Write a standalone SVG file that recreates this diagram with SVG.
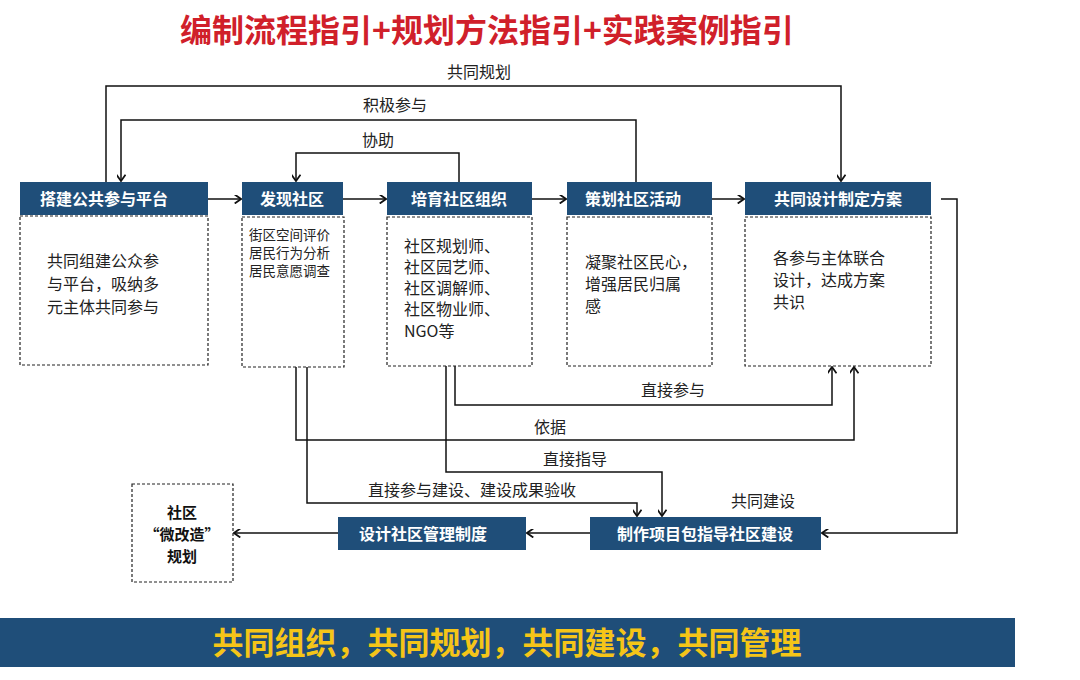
<svg xmlns="http://www.w3.org/2000/svg" width="1080" height="680" viewBox="0 0 1080 680">
<style>
text{font-family:"Noto Sans CJK SC","Liberation Sans",sans-serif}
.hd{fill:#1f4e79}
.hdt{fill:#fff;font-weight:bold;font-size:16px;text-anchor:middle}
.bd{fill:#fff;stroke:#222;stroke-width:1.2;stroke-dasharray:3 2}
.bt{font-size:16px;fill:#222}
.ln{fill:none;stroke:#111;stroke-width:1.5}
.lb{font-size:16px;fill:#222;text-anchor:middle}
</style>
<defs><marker id="a" viewBox="0 0 10 10" refX="9" refY="5" markerWidth="9" markerHeight="9" orient="auto" markerUnits="userSpaceOnUse"><path d="M2,0 L9,5 L2,10" fill="none" stroke="#111" stroke-width="2"/></marker></defs>
<rect width="1080" height="680" fill="#fff"/>
<text x="487" y="42" font-size="32" font-weight="bold" fill="#d0202a" text-anchor="middle">编制流程指引+规划方法指引+实践案例指引</text>
<g id="connectors">
<path class="ln" d="M208,199H241" marker-end="url(#a)"/>
<path class="ln" d="M343,199H386" marker-end="url(#a)"/>
<path class="ln" d="M532,199H566" marker-end="url(#a)"/>
<path class="ln" d="M712,199H744" marker-end="url(#a)"/>
<path class="ln" d="M106,182V86H841V181" marker-end="url(#a)"/>
<path class="ln" d="M636,182V120H121V181" marker-end="url(#a)"/>
<path class="ln" d="M459,182V153H296V181" marker-end="url(#a)"/>
<path class="ln" d="M941,199H957V533H822" marker-end="url(#a)"/>
<path class="ln" d="M455,366V405H832V367" marker-end="url(#a)"/>
<path class="ln" d="M296,367V440H854V367" marker-end="url(#a)"/>
<path class="ln" d="M446,366V472H662V516" marker-end="url(#a)"/>
<path class="ln" d="M307,367V503H637V516" marker-end="url(#a)"/>
<path class="ln" d="M590,533H527" marker-end="url(#a)"/>
<path class="ln" d="M338,533H234" marker-end="url(#a)"/>
<text class="lb" x="479" y="78">共同规划</text>
<text class="lb" x="395" y="111">积极参与</text>
<text class="lb" x="378" y="146">协助</text>
<text class="lb" x="673" y="396">直接参与</text>
<text class="lb" x="550" y="433">依据</text>
<text class="lb" x="575" y="465">直接指导</text>
<text class="lb" x="472" y="496">直接参与建设、建设成果验收</text>
<text class="lb" x="763" y="507">共同建设</text>
</g>
<g id="n1"><rect class="hd" x="20" y="182" width="188" height="33"/><text class="hdt" x="104" y="205">搭建公共参与平台</text>
<rect class="bd" x="20" y="216" width="188" height="149"/>
<text class="bt"><tspan x="47" y="267">共同组建公众参</tspan><tspan x="47" y="290">与平台，吸纳多</tspan><tspan x="47" y="313">元主体共同参与</tspan></text></g>
<g id="n2"><rect class="hd" x="242" y="182" width="101" height="33"/><text class="hdt" x="292" y="205">发现社区</text>
<rect class="bd" x="242" y="217" width="102" height="150"/>
<text class="bt" font-size="13"><tspan x="249" y="240" font-size="13.5">街区空间评价</tspan><tspan x="249" y="258" font-size="13.5">居民行为分析</tspan><tspan x="249" y="276" font-size="13.5">居民意愿调查</tspan></text></g>
<g id="n3"><rect class="hd" x="387" y="182" width="145" height="33"/><text class="hdt" x="459" y="205">培育社区组织</text>
<rect class="bd" x="387" y="217" width="145" height="149"/>
<text class="bt" font-size="15"><tspan x="404" y="252">社区规划师、</tspan><tspan x="404" y="273">社区园艺师、</tspan><tspan x="404" y="294">社区调解师、</tspan><tspan x="404" y="315">社区物业师、</tspan><tspan x="404" y="337">NGO等</tspan></text></g>
<g id="n4"><rect class="hd" x="567" y="182" width="145" height="33"/><text class="hdt" x="633" y="205">策划社区活动</text>
<rect class="bd" x="567" y="217" width="145" height="149"/>
<text class="bt"><tspan x="585" y="268">凝聚社区民心，</tspan><tspan x="585" y="290">增强居民归属</tspan><tspan x="585" y="312">感</tspan></text></g>
<g id="n5"><rect class="hd" x="745" y="182" width="186" height="33"/><text class="hdt" x="838" y="205">共同设计制定方案</text>
<rect class="bd" x="745" y="217" width="186" height="149"/>
<text class="bt"><tspan x="773" y="264">各参与主体联合</tspan><tspan x="773" y="286">设计，达成方案</tspan><tspan x="773" y="308">共识</tspan></text></g>
<g id="n6"><rect class="hd" x="590" y="517" width="231" height="33"/><text class="hdt" x="705" y="540">制作项目包指导社区建设</text></g>
<g id="n7"><rect class="hd" x="338" y="517" width="188" height="33"/><text class="hdt" x="423" y="540">设计社区管理制度</text></g>
<g id="n8"><rect class="bd" x="132" y="484" width="101" height="98"/>
<text font-size="15" font-weight="bold" fill="#111" text-anchor="middle"><tspan x="182" y="518">社区</tspan><tspan x="182" y="540">“微改造”</tspan><tspan x="182" y="562">规划</tspan></text></g>
<g id="banner"><rect x="0" y="618" width="1015" height="49" fill="#1f4e79"/>
<text x="507" y="654" font-size="31" font-weight="bold" fill="#f5c518" text-anchor="middle">共同组织，共同规划，共同建设，共同管理</text></g>
</svg>
